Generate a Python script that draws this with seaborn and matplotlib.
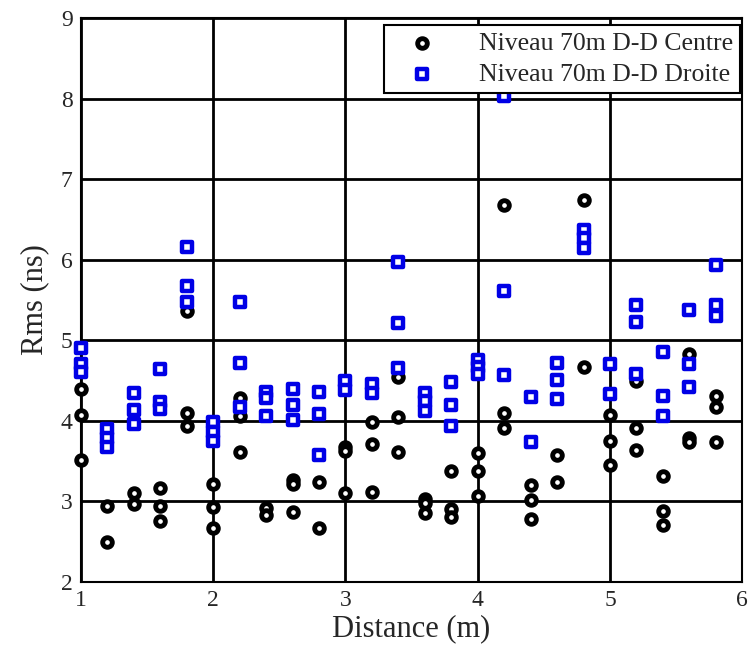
import pandas as pd
import matplotlib
matplotlib.use("Agg")
import matplotlib.pyplot as plt
import seaborn as sns

# values
dist_centre = [1.0, 1.0, 1.0,
               1.2, 1.2,
               1.4, 1.4,
               1.6, 1.6, 1.6,
               1.8, 1.8, 1.8,
               2.0, 2.0, 2.0,
               2.2, 2.2, 2.2,
               2.4, 2.4,
               2.6, 2.6, 2.6,
               2.8, 2.8,
               3.0, 3.0, 3.0,
               3.2, 3.2, 3.2,
               3.4, 3.4, 3.4,
               3.6, 3.6, 3.6,
               3.8, 3.8, 3.8,
               4.0, 4.0, 4.0,
               4.2, 4.2, 4.2,
               4.4, 4.4, 4.4,
               4.6, 4.6,
               4.8, 4.8,
               5.0, 5.0, 5.0,
               5.2, 5.2, 5.2,
               5.4, 5.4, 5.4,
               5.6, 5.6, 5.6,
               5.8, 5.8, 5.8]
rms_centre = [4.40, 4.07, 3.51,
              2.94, 2.49,
              3.10, 2.96,
              3.16, 2.94, 2.75,
              5.36, 4.09, 3.93,
              3.22, 2.93, 2.67,
              4.28, 4.06, 3.61,
              2.92, 2.83,
              3.27, 3.22, 2.87,
              3.24, 2.67,
              3.67, 3.63, 3.10,
              3.98, 3.71, 3.12,
              4.54, 4.05, 3.61,
              3.03, 2.98, 2.85,
              3.38, 2.91, 2.80,
              3.60, 3.38, 3.06,
              6.68, 4.09, 3.91,
              3.20, 3.01, 2.78,
              3.57, 3.24,
              6.74, 4.67,
              4.07, 3.75, 3.45,
              4.49, 3.91, 3.64,
              3.31, 2.88, 2.71,
              4.83, 3.79, 3.73,
              4.31, 4.17, 3.74]

dist_droite = [1.0, 1.0, 1.0,
               1.2, 1.2, 1.2,
               1.4, 1.4, 1.4,
               1.6, 1.6, 1.6,
               1.8, 1.8, 1.8,
               2.0, 2.0, 2.0,
               2.2, 2.2, 2.2,
               2.4, 2.4, 2.4,
               2.6, 2.6, 2.6,
               2.8, 2.8, 2.8,
               3.0, 3.0,
               3.2, 3.2,
               3.4, 3.4, 3.4,
               3.6, 3.6, 3.6,
               3.8, 3.8, 3.8,
               4.0, 4.0, 4.0,
               4.2, 4.2, 4.2,
               4.4, 4.4,
               4.6, 4.6, 4.6,
               4.8, 4.8, 4.8,
               5.0, 5.0,
               5.2, 5.2, 5.2,
               5.4, 5.4, 5.4,
               5.6, 5.6, 5.6,
               5.8, 5.8, 5.8]
rms_droite = [4.90, 4.70, 4.61,
              3.90, 3.79, 3.67,
              4.34, 4.13, 3.96,
              4.64, 4.23, 4.14,
              6.16, 5.67, 5.47,
              3.98, 3.86, 3.75,
              5.47, 4.72, 4.17,
              4.36, 4.28, 4.06,
              4.39, 4.19, 4.01,
              4.36, 4.08, 3.58,
              4.49, 4.38,
              4.46, 4.35,
              5.97, 5.21, 4.65,
              4.35, 4.24, 4.12,
              4.48, 4.20, 3.94,
              4.76, 4.67, 4.58,
              8.03, 5.61, 4.57,
              4.29, 3.74,
              4.72, 4.50, 4.27,
              6.37, 6.27, 6.14,
              4.70, 4.33,
              5.44, 5.23, 4.58,
              4.85, 4.31, 4.06,
              5.38, 4.71, 4.42,
              5.93, 5.44, 5.30]

label_centre = "Niveau 70m D-D Centre"
label_droite = "Niveau 70m D-D Droite"

df_centre = pd.DataFrame({"distance": dist_centre, "rms": rms_centre})
df_droite = pd.DataFrame({"distance": dist_droite, "rms": rms_droite})

sns.set_style("white")
plt.rcParams["font.family"] = ["Liberation Serif", "DejaVu Serif"]

fig = plt.figure(figsize=(7.49, 6.45), dpi=100)
ax = fig.add_axes([0.108, 0.098, 0.883, 0.874])

sns.scatterplot(data=df_centre, x="distance", y="rms", ax=ax, marker="o",
                s=48, color="white", edgecolor="black", linewidth=3.5,
                label=label_centre, zorder=3, clip_on=False)
sns.scatterplot(data=df_droite, x="distance", y="rms", ax=ax, marker="s",
                s=52, color="white", edgecolor="#0000e6", linewidth=3.2,
                label=label_droite, zorder=3, clip_on=False)

ax.set_xlim(1, 6)
ax.set_ylim(2, 9)
ax.set_xticks(range(1, 7))
ax.set_yticks(range(2, 10))
ax.grid(True, color="black", linewidth=2.0)
ax.set_axisbelow(True)
ax.tick_params(length=0, labelsize=17, pad=6)
for sp in ax.spines.values():
    sp.set_color("black")
    sp.set_linewidth(1.5)

ax.set_xlabel("Distance (m)", fontsize=22, labelpad=2)
ax.set_ylabel("Rms (ns)", fontsize=22, labelpad=8)

leg = ax.legend(loc="upper right", bbox_to_anchor=(0.997, 0.988), fontsize=18.5,
                frameon=True, fancybox=False, borderaxespad=0,
                handlelength=2.4, handletextpad=1.0, borderpad=0.28,
                labelspacing=0.3)
leg.get_frame().set_edgecolor("black")
leg.get_frame().set_linewidth(1.5)
leg.get_frame().set_alpha(1)
leg.set_zorder(5)

fig.savefig("out.png", dpi=100)
